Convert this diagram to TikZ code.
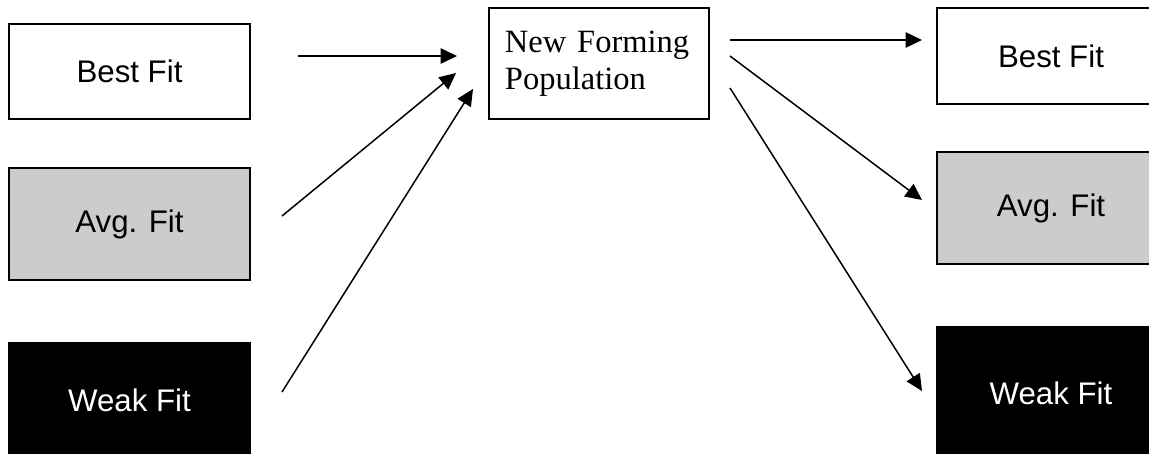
\documentclass[tikz,border=0pt]{standalone}
\usepackage{fontspec}
\setmainfont{Liberation Serif}
\newfontfamily\arialfont{Liberation Sans}
\usetikzlibrary{arrows.meta}

\begin{document}
\begin{tikzpicture}[x=0.4pt, y=-0.4pt, >={Triangle[length=6.6pt, width=6.2pt]},
  fitbox/.style={draw, line width=0.8pt, inner sep=0pt, font=\arialfont\fontsize{12.5}{14}\selectfont},
  leftbox/.style={fitbox, minimum width=96.4pt},
  rightbox/.style={fitbox, minimum width=91.2pt},
  link/.style={->, line width=0.6pt}]
\clip (0,0) rectangle (1149,454);
% old population, left column
\node[leftbox, minimum height=38pt] (lbest) at (129.5,71.5) {Best Fit};
\node[leftbox, minimum height=44.8pt, fill=black!20] (lavg) at (129.5,224) {Avg. Fit};
\node[leftbox, minimum height=46pt, fill=black, text=white] (lweak) at (129.5,400.5) {Weak Fit};
% new population
\node[draw, line width=0.8pt, minimum width=88pt, minimum height=44.4pt, text width=75.2pt,
  inner xsep=6.4pt, inner ysep=0pt, align=left, font=\fontsize{13}{15}\selectfont]
  (newpop) at (599,63.5) {New Forming\\Population};
% sorted population, right column
\node[rightbox, minimum height=38.4pt] (rbest) at (1051,56) {Best Fit};
\node[rightbox, minimum height=44.8pt, fill=black!20] (ravg) at (1051,208) {Avg. Fit};
\node[rightbox, minimum height=52.8pt, fill=black, text=white] (rweak) at (1051,393) {Weak Fit};
% arrow ends
\coordinate (bestout) at (298,56);
\coordinate (bestin) at (457,56);
\coordinate (avgout) at (282,216);
\coordinate (avgin) at (456,73);
\coordinate (weakout) at (282,392);
\coordinate (weakin) at (473,89);
\coordinate (popbest) at (730,40);
\coordinate (tobest) at (922,40);
\coordinate (popavg) at (730,56);
\coordinate (toavg) at (922,200);
\coordinate (popweak) at (730,88);
\coordinate (toweak) at (922,391);
\draw[link] (bestout) -- (bestin);
\draw[link] (avgout) -- (avgin);
\draw[link] (weakout) -- (weakin);
\draw[link] (popbest) -- (tobest);
\draw[link] (popavg) -- (toavg);
\draw[link] (popweak) -- (toweak);
\end{tikzpicture}
\end{document}
